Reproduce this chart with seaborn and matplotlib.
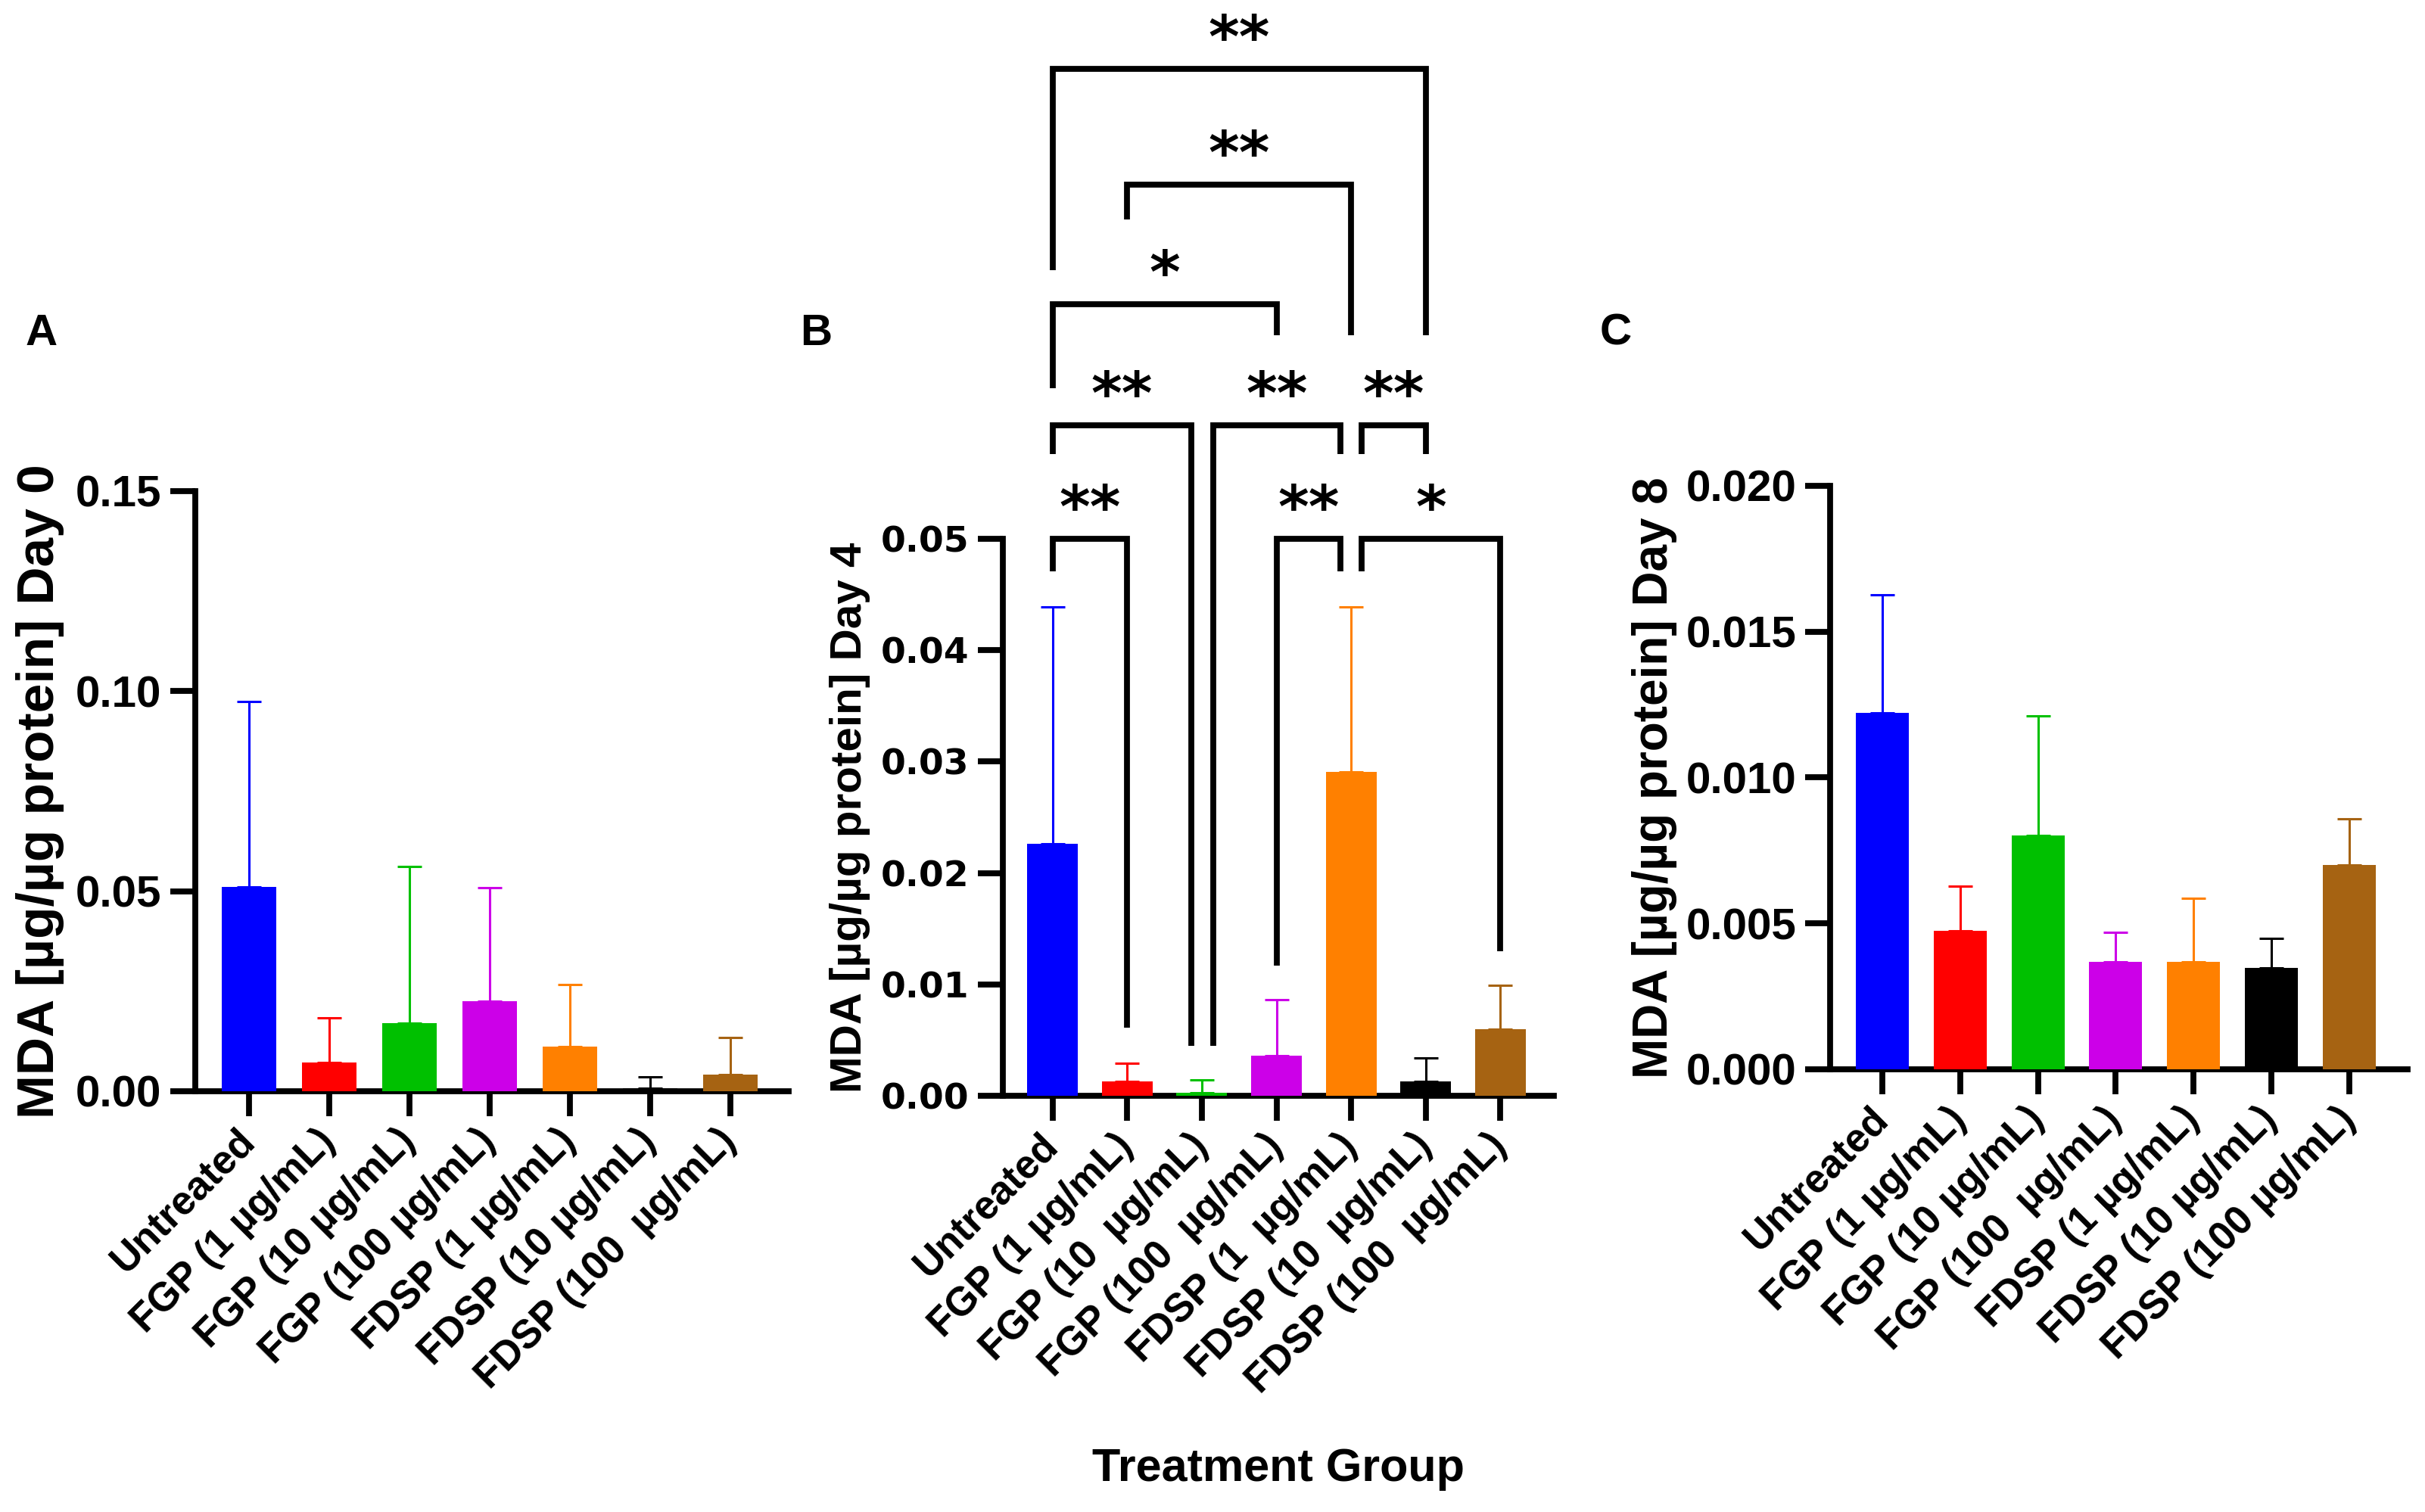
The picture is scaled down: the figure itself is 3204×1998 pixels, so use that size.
import numpy as np
import pandas as pd
import matplotlib
matplotlib.use("Agg")
import matplotlib.pyplot as plt
from matplotlib import font_manager
import seaborn as sns

# ---------------- data ----------------
groups_A = ["Untreated", "FGP (1 µg/mL)", "FGP (10 µg/mL)", "FGP (100 µg/mL)",
            "FDSP (1 µg/mL)", "FDSP (10 µg/mL)", "FDSP (100  µg/mL)"]
groups_B = ["Untreated", "FGP (1 µg/mL)", "FGP (10  µg/mL)", "FGP (100  µg/mL)",
            "FDSP (1  µg/mL)", "FDSP (10  µg/mL)", "FDSP (100  µg/mL)"]
groups_C = ["Untreated", "FGP (1 µg/mL)", "FGP (10 µg/mL)", "FGP (100  µg/mL)",
            "FDSP (1 µg/mL)", "FDSP (10 µg/mL)", "FDSP (100 µg/mL)"]

mean_day0 = [0.0511, 0.0071, 0.0170, 0.0225, 0.0111, 0.0007, 0.0042]
sd_day0 = [0.0464, 0.0113, 0.0392, 0.0284, 0.0156, 0.0028, 0.0093]

mean_day4 = [0.0226, 0.0013, 0.0003, 0.0036, 0.0291, 0.0013, 0.0060]
sd_day4 = [0.0213, 0.0016, 0.0011, 0.0050, 0.0148, 0.0021, 0.0039]

mean_day8 = [0.01221, 0.00475, 0.00801, 0.00369, 0.00369, 0.00348, 0.00701]
sd_day8 = [0.00406, 0.00153, 0.00411, 0.00101, 0.00218, 0.00100, 0.00157]

bar_colors = ["#0000FF", "#FF0000", "#00C000", "#CC00E8", "#FF8000", "#000000", "#A66312"]

yticks_A = [0.00, 0.05, 0.10, 0.15]
yticks_B = [0.00, 0.01, 0.02, 0.03, 0.04, 0.05]
yticks_C = [0.000, 0.005, 0.010, 0.015, 0.020]

# significance brackets for Day 4 (x1, x2, bar height, left leg end, right leg end, label)
sig_B = [
    (0.00, 1.00, 0.0500, 0.0471, 0.0061, "**"),
    (3.00, 3.86, 0.0500, 0.0117, 0.0471, "**"),
    (4.14, 6.00, 0.0500, 0.0471, 0.0130, "*"),
    (0.00, 1.86, 0.0602, 0.0576, 0.0045, "**"),
    (2.15, 3.86, 0.0602, 0.0045, 0.0576, "**"),
    (4.14, 5.00, 0.0602, 0.0576, 0.0576, "**"),
    (0.00, 3.00, 0.0711, 0.0635, 0.0683, "*"),
    (1.00, 4.00, 0.0818, 0.0787, 0.0683, "**"),
    (0.00, 5.00, 0.0922, 0.0741, 0.0683, "**"),
]

# ---------------- fonts / style ----------------
sns.set_theme(style="ticks")
names = {f.name for f in font_manager.fontManager.ttflist}
base_font = "Liberation Sans" if "Liberation Sans" in names else "DejaVu Sans"
narrow_font = "Liberation Sans Narrow" if "Liberation Sans Narrow" in names else base_font
wide_font = "DejaVu Sans"
plt.rcParams["font.family"] = [base_font, "DejaVu Sans"]
plt.rcParams["font.weight"] = "bold"
for key in ["text.color", "axes.labelcolor", "xtick.color", "ytick.color", "axes.edgecolor"]:
    plt.rcParams[key] = "black"

LW = 2.8

fig = plt.figure(figsize=(16.02, 9.99), dpi=200)
fig.patch.set_facecolor("white")

panels = [
    dict(pos=[0.0805, 0.2783, 0.2447, 0.3969], groups=groups_A, mean=mean_day0, sd=sd_day0,
         yticks=yticks_A, fmt="{:.2f}", ylabel="MDA [µg/µg protein] Day 0",
         tickfont=narrow_font, ticksize=21, labsize=25, labx=-0.22, xlim=(-0.67, 6.73)),
    dict(pos=[0.4135, 0.2753, 0.2273, 0.3683], groups=groups_B, mean=mean_day4, sd=sd_day4,
         yticks=yticks_B, fmt="{:.2f}", ylabel="MDA [µg/µg protein] Day 4",
         tickfont=wide_font, ticksize=17, labsize=21, labx=-0.24, xlim=(-0.67, 6.72)),
    dict(pos=[0.7547, 0.2928, 0.2381, 0.3859], groups=groups_C, mean=mean_day8, sd=sd_day8,
         yticks=yticks_C, fmt="{:.3f}", ylabel="MDA [µg/µg protein] Day 8",
         tickfont=narrow_font, ticksize=21, labsize=23, labx=-0.265, xlim=(-0.67, 6.75)),
]

axes = []
for p in panels:
    ax = fig.add_axes(p["pos"])
    df = pd.DataFrame({"group": p["groups"], "value": p["mean"]})
    sns.barplot(data=df, x="group", y="value", hue="group", order=p["groups"],
                hue_order=p["groups"], palette=bar_colors, saturation=1, width=0.68,
                linewidth=0, legend=False, errorbar=None, ax=ax, zorder=3)
    for i, (m, s) in enumerate(zip(p["mean"], p["sd"])):
        ax.errorbar([i], [m], yerr=[[0], [s]], fmt="none", ecolor=bar_colors[i],
                    elinewidth=1.1, capsize=5.8, capthick=1.1, zorder=2)
    ax.set_xlim(*p["xlim"])
    ax.set_ylim(p["yticks"][0], p["yticks"][-1])
    ax.set_yticks(p["yticks"])
    ax.set_yticklabels([p["fmt"].format(v) for v in p["yticks"]],
                       fontfamily=p["tickfont"], fontsize=p["ticksize"], fontweight="bold")
    ax.set_xticks(range(len(p["groups"])))
    ax.set_xticklabels(p["groups"], rotation=45, ha="right", va="center",
                       rotation_mode="anchor", fontsize=19, fontweight="bold")
    ax.set_xlabel("")
    ax.set_ylabel(p["ylabel"], fontsize=p["labsize"], fontweight="bold")
    ax.yaxis.set_label_coords(p["labx"], 0.5)
    for side in ["top", "right"]:
        ax.spines[side].set_visible(False)
    for side in ["left", "bottom"]:
        ax.spines[side].set_linewidth(LW)
        ax.spines[side].set_color("black")
    ax.tick_params(axis="both", length=12, width=LW, color="black", direction="out")
    ax.tick_params(axis="y", pad=4)
    ax.tick_params(axis="x", pad=9)
    ax.set_facecolor("none")
    ax.grid(False)
    axes.append(ax)

# significance brackets on Day 4
axB = axes[1]
for x1, x2, y, e1, e2, lab in sig_B:
    axB.plot([x1, x1, x2, x2], [e1, y, y, e2], color="black", lw=LW, clip_on=False,
             solid_joinstyle="miter", solid_capstyle="butt", zorder=5)
    axB.text((x1 + x2) / 2, y + 0.0010, lab, ha="center", va="baseline",
             fontsize=28, fontweight="bold", family="DejaVu Sans", clip_on=False)

# panel letters
for lx, lab in [(55, "A"), (1078, "B"), (2135, "C")]:
    fig.text(lx / 3204, 1 - 441 / 1998, lab, ha="center", va="center",
             fontsize=21, fontweight="bold")

fig.text(1689 / 3204, 1 - 1942 / 1998, "Treatment Group", ha="center", va="center",
         fontsize=22, fontweight="bold", family=[narrow_font, "DejaVu Sans"])

fig.savefig("out.png", dpi=200, facecolor="white")
